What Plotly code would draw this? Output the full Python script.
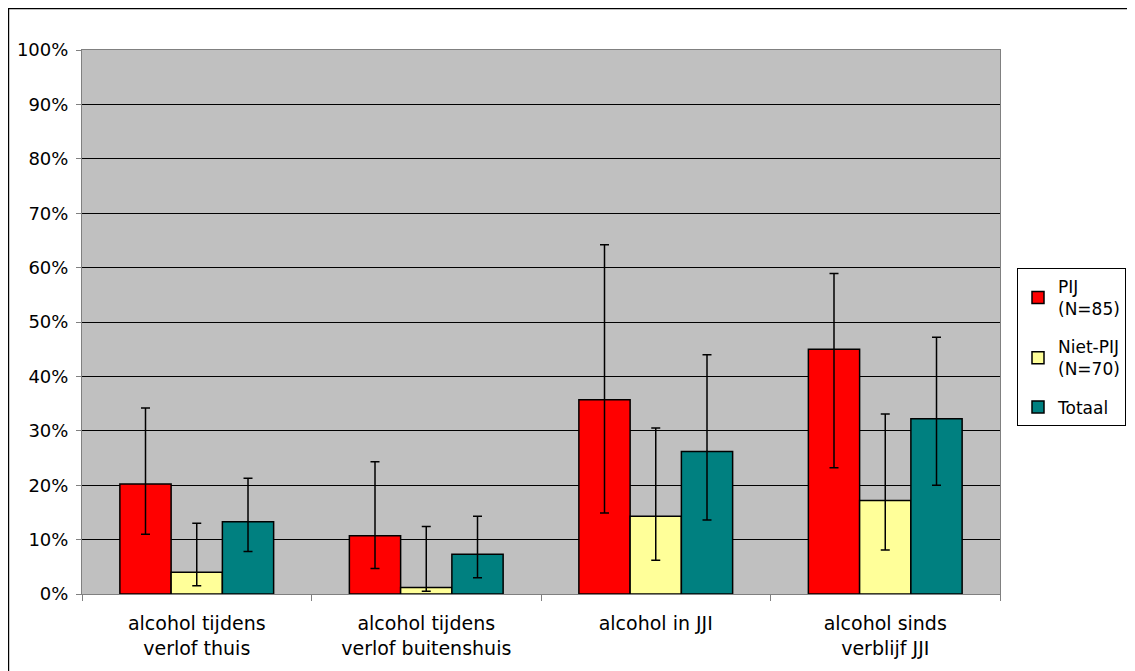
import plotly.graph_objects as go

categories = ["alcohol tijdens<br>verlof thuis", "alcohol tijdens<br>verlof buitenshuis",
              "alcohol in JJI", "alcohol sinds<br>verblijf JJI"]
series_names = ["PIJ<br>(N=85)", "Niet-PIJ<br>(N=70)", "Totaal"]
pij = [20.2, 10.7, 35.7, 45.0]
pij_hi = [34.2, 24.3, 64.2, 58.9]
pij_lo = [11.0, 4.7, 14.9, 23.2]
niet = [4.0, 1.2, 14.3, 17.2]
niet_hi = [13.0, 12.4, 30.5, 33.1]
niet_lo = [1.5, 0.5, 6.2, 8.1]
tot = [13.3, 7.3, 26.2, 32.2]
tot_hi = [21.3, 14.3, 44.0, 47.2]
tot_lo = [7.8, 3.0, 13.6, 20.0]
colors = ["#FF0000", "#FFFF99", "#008080"]
ytick_vals = list(range(0, 101, 10))
ytick_text = [f"{v}%" for v in ytick_vals]

W, H = 1135, 671
L, T = 74, 42
pw, ph = 918, 544
R, B = W - L - pw, H - T - ph

fig = go.Figure()
for i, (name, vals, hi, lo, c) in enumerate([(series_names[0], pij, pij_hi, pij_lo, colors[0]),
                                             (series_names[1], niet, niet_hi, niet_lo, colors[1]),
                                             (series_names[2], tot, tot_hi, tot_lo, colors[2])]):
    fig.add_trace(go.Bar(
        x=categories, y=vals, name=name, legendgroup=f"g{i}",
        marker=dict(color=c, line=dict(color="black", width=1.5)),
        error_y=dict(type="data", symmetric=False,
                     array=[h - v for h, v in zip(hi, vals)],
                     arrayminus=[v - l for v, l in zip(vals, lo)],
                     color="black", thickness=1.5, width=4.5),
    ))

fig.update_layout(
    width=W, height=H,
    margin=dict(l=L, r=R, t=T, b=B, autoexpand=False),
    paper_bgcolor="white", plot_bgcolor="#C0C0C0",
    barmode="group", bargap=0.33, bargroupgap=0,
    font=dict(family="DejaVu Sans, Verdana, sans-serif", color="black"),
    showlegend=True,
    legend=dict(x=(1009 - L) / pw, y=(586 - 260) / ph, xanchor="left", yanchor="top",
                bordercolor="black", borderwidth=1, bgcolor="white",
                font=dict(size=17), traceorder="grouped", tracegroupgap=13,
                itemwidth=30),
    xaxis=dict(tickson="boundaries", ticks="outside", ticklen=6, tickcolor="#808080",
               showline=True, linecolor="#808080", linewidth=1, mirror=True,
               tickfont=dict(size=19), showgrid=False, ticklabelstandoff=12),
    yaxis=dict(range=[0, 100], tickvals=ytick_vals, ticktext=ytick_text,
               ticks="outside", ticklen=5, tickcolor="#808080",
               showline=True, linecolor="#808080", linewidth=1, mirror=True,
               showgrid=True, gridcolor="black", gridwidth=1,
               tickfont=dict(size=18), zeroline=False, ticklabelstandoff=4),
    shapes=[dict(type="rect", xref="paper", yref="paper",
                 x0=-L / pw + 0.0005, x1=1 + R / pw - 0.0005,
                 y0=-B / ph + 0.001, y1=1 + T / ph - 0.001,
                 line=dict(color="black", width=1.5))],
)

fig.write_html("out.html")
